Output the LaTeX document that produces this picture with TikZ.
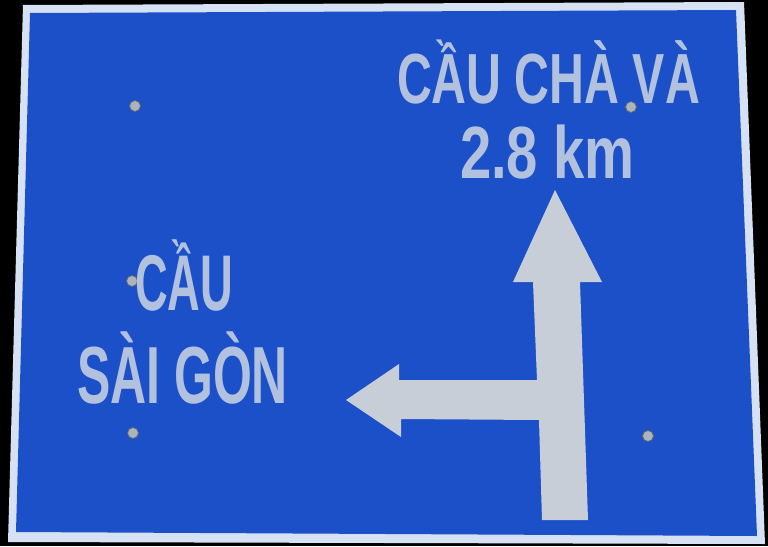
\documentclass[tikz,border=0pt]{standalone}
\usepackage{fontspec}
\usepackage{graphicx}
\setmainfont{Liberation Sans}
\definecolor{signblue}{RGB}{28,80,200}
\definecolor{signtext}{RGB}{178,194,222}
\definecolor{signarrow}{RGB}{200,206,216}
\definecolor{signborder}{RGB}{214,226,244}
\definecolor{boltgrey}{RGB}{170,180,190}
\newcommand{\signline}[3]{\resizebox{#1}{\height}{\fontsize{#2}{#2}\selectfont\bfseries #3}}
\tikzset{
  signlabel/.style={inner sep=0pt, outer sep=0pt, text=signtext, anchor=base west},
  bolt/.style={fill=boltgrey, draw=black!60, line width=0.8pt}
}
\begin{document}
\begin{tikzpicture}[x=1pt,y=-1pt]
\useasboundingbox (0,0) rectangle (768,546);
\fill[black] (0,0) rectangle (768,546);
% sign plate
\fill[signborder] (23,5) -- (744,2) -- (765,544) -- (8,542) -- cycle;
\fill[signblue] (30,13) -- (736,10) -- (757,536) -- (16,532) -- cycle;
% bolts
\foreach \bx/\by in {135/106, 631/107, 132/281, 133/433, 648/436}
  \filldraw[bolt] (\bx,\by) circle (5.5);
% arrow
\fill[signarrow] (555,190) -- (602,282) -- (580,282) -- (588,520) -- (542,520)
  -- (539,420) -- (401,419) -- (401,437) -- (346,400) -- (399,364) -- (399,380)
  -- (537,380) -- (533,282) -- (513,282) -- cycle;
% texts
\node[signlabel] (t1) at (397,103) {\signline{303pt}{71}{CẦU CHÀ VÀ}};
\node[signlabel] (t2) at (460,178) {\signline{175pt}{74}{2.8 km}};
\node[signlabel] (t3) at (135,310) {\signline{98pt}{79}{CẦU}};
\node[signlabel] (t4) at (77,403) {\signline{211pt}{81}{SÀI GÒN}};
\end{tikzpicture}
\end{document}
